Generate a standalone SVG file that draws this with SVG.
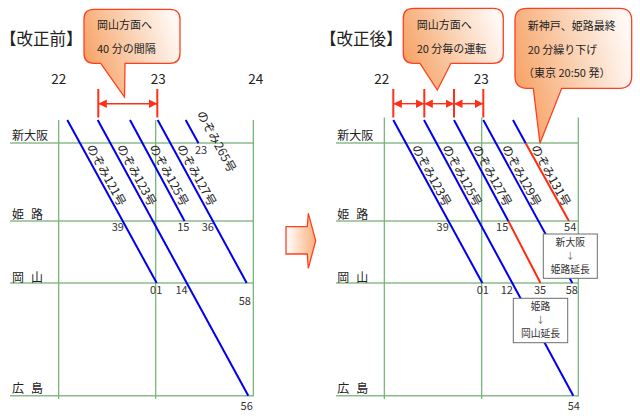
<svg xmlns="http://www.w3.org/2000/svg" width="640" height="416" viewBox="0 0 640 416">
<style>
text{font-family:"Noto Sans CJK JP","Noto Sans",sans-serif;fill:#222}
.title{font-size:16.5px}
.hr{font-size:13.5px;text-anchor:middle}
.st{font-size:12px}
.tm{font-size:11px;text-anchor:middle;fill:#333}
.lbl{font-size:12px}
.co{font-size:11px}
.bx{font-size:9.8px;text-anchor:middle;fill:#333}
.ar{font-size:9px;text-anchor:middle;fill:#666}
.gv{stroke:#6CB26C;stroke-width:1.2;fill:none}
.gh{stroke:#8BBB8B;stroke-width:1.6;fill:none}
.blue{stroke:#0000F0;stroke-width:2;fill:none}
.red{stroke:#FF2A10;stroke-width:2;fill:none}
.mk{stroke:#FF3018;stroke-width:2;fill:none}
.dim{stroke:#FF3018;stroke-width:1.4;fill:none;marker-start:url(#ah);marker-end:url(#ah)}
.call{fill:url(#cg);stroke:#FF4020;stroke-width:1.3}
.box{fill:#fff;stroke:#6E6E6E;stroke-width:1}
</style>
<defs>
<linearGradient id="cg" x1="0" y1="0.65" x2="1" y2="0.35">
<stop offset="0" stop-color="#F7A062"/>
<stop offset="0.55" stop-color="#FAD2B4"/>
<stop offset="1" stop-color="#FFF8F4"/>
</linearGradient>
<linearGradient id="ag" x1="0" y1="0" x2="1" y2="0">
<stop offset="0" stop-color="#FFFFFF"/>
<stop offset="1" stop-color="#FBB07A"/>
</linearGradient>
<marker id="ah" viewBox="0 0 10 10" refX="10" refY="5" markerWidth="8.5" markerHeight="8.6" markerUnits="userSpaceOnUse" orient="auto-start-reverse" preserveAspectRatio="none">
<path d="M0,0 L10,5 L0,10 z" fill="#FF3018"/>
</marker>
</defs>
<rect width="640" height="416" fill="#fff"/>

<g id="title-before"><text class="title" x="0" y="45">【改正前】</text></g>
<g id="title-after"><text class="title" x="320" y="45">【改正後】</text></g>

<g id="grid-before">
<line class="gh" x1="10" y1="143" x2="253" y2="143"/>
<line class="gh" x1="10" y1="221" x2="253" y2="221"/>
<line class="gh" x1="10" y1="283" x2="253" y2="283"/>
<line class="gh" x1="10" y1="395.7" x2="253" y2="395.7"/>
<line class="gv" x1="58.7" y1="120" x2="58.7" y2="399"/>
<line class="gv" x1="155.7" y1="120" x2="155.7" y2="399"/>
<line class="gv" x1="253.3" y1="120" x2="253.3" y2="396.5"/>
<text class="hr" x="58.7" y="84">22</text>
<text class="hr" x="158.3" y="84">23</text>
<text class="hr" x="255.8" y="84">24</text>
<text class="st" x="12" y="140">新大阪</text>
<text class="st" x="12" y="218.5" textLength="31" lengthAdjust="spacing">姫 路</text>
<text class="st" x="12" y="281.5" textLength="31" lengthAdjust="spacing">岡 山</text>
<text class="st" x="12" y="392.5" textLength="31" lengthAdjust="spacing">広 島</text>
</g>

<g id="grid-after">
<line class="gh" x1="336" y1="143" x2="578.3" y2="143"/>
<line class="gh" x1="336" y1="221" x2="578.3" y2="221"/>
<line class="gh" x1="336" y1="283" x2="578.3" y2="283"/>
<line class="gh" x1="336" y1="395.7" x2="578.3" y2="395.7"/>
<line class="gv" x1="384.3" y1="117.5" x2="384.3" y2="399"/>
<line class="gv" x1="481.7" y1="117.5" x2="481.7" y2="399"/>
<line class="gv" x1="578.3" y1="117.5" x2="578.3" y2="396.5"/>
<text class="hr" x="381.7" y="84">22</text>
<text class="hr" x="481.2" y="84">23</text>
<text class="st" x="337.3" y="140">新大阪</text>
<text class="st" x="337.3" y="218.5" textLength="31" lengthAdjust="spacing">姫 路</text>
<text class="st" x="337.3" y="281.5" textLength="31" lengthAdjust="spacing">岡 山</text>
<text class="st" x="337.3" y="392.5" textLength="31" lengthAdjust="spacing">広 島</text>
</g>

<g id="connectors">
<line class="blue" x1="67.3" y1="120" x2="156.7" y2="283"/>
<line class="blue" x1="97.7" y1="120" x2="248.3" y2="395.7"/>
<line class="blue" x1="130" y1="120" x2="184.5" y2="221"/>
<line class="blue" x1="157.7" y1="120" x2="246.7" y2="283"/>
<line class="blue" x1="185.7" y1="120" x2="198.5" y2="143.3"/>
<line class="blue" x1="393.3" y1="120" x2="482.3" y2="283"/>
<line class="blue" x1="424" y1="120" x2="573.3" y2="395.7"/>
<line class="blue" x1="454" y1="120" x2="508.3" y2="221"/>
<line class="red" x1="508.3" y1="221" x2="540.5" y2="283"/>
<line class="blue" x1="483.3" y1="120" x2="572.3" y2="283"/>
<line class="blue" x1="513" y1="120" x2="525.7" y2="143.3"/>
<line class="red" x1="525.7" y1="143.3" x2="568.9" y2="221"/>
<line class="mk" x1="98.3" y1="89" x2="98.3" y2="117.5"/>
<line class="mk" x1="157.3" y1="89" x2="157.3" y2="117.5"/>
<line class="dim" x1="98.3" y1="103.7" x2="157.3" y2="103.7"/>
<line class="mk" x1="393.3" y1="89" x2="393.3" y2="117.5"/>
<line class="mk" x1="424.3" y1="89" x2="424.3" y2="117.5"/>
<line class="mk" x1="454" y1="89" x2="454" y2="117.5"/>
<line class="mk" x1="483.3" y1="89" x2="483.3" y2="117.5"/>
<line class="dim" x1="393.3" y1="103.7" x2="424.3" y2="103.7"/>
<line class="dim" x1="424.3" y1="103.7" x2="454" y2="103.7"/>
<line class="dim" x1="454" y1="103.7" x2="483.3" y2="103.7"/>
</g>

<g id="train-labels">
<text class="lbl" transform="translate(86.2,147.3) rotate(61.27)">のぞみ121号</text>
<text class="lbl" transform="translate(116.6,147.3) rotate(61.27)">のぞみ123号</text>
<text class="lbl" transform="translate(148.9,147.3) rotate(61.27)">のぞみ125号</text>
<text class="lbl" transform="translate(176.6,147.3) rotate(61.27)">のぞみ127号</text>
<text class="lbl" transform="translate(196.4,113.7) rotate(61.27)">のぞみ265号</text>
<text class="lbl" transform="translate(411.4,147.7) rotate(61.27)">のぞみ123号</text>
<text class="lbl" transform="translate(442.1,147.7) rotate(61.27)">のぞみ125号</text>
<text class="lbl" transform="translate(472.1,147.7) rotate(61.27)">のぞみ127号</text>
<text class="lbl" transform="translate(501.4,147.7) rotate(61.27)">のぞみ129号</text>
<text class="lbl" transform="translate(530.8,147.7) rotate(61.27)">のぞみ131号</text>
</g>

<g id="times">
<text class="tm" x="201" y="154">23</text>
<text class="tm" x="117.8" y="230.7">39</text>
<text class="tm" x="183.3" y="230.7">15</text>
<text class="tm" x="207.8" y="230.7">36</text>
<text class="tm" x="156.2" y="293.7">01</text>
<text class="tm" x="181.5" y="293.7">14</text>
<text class="tm" x="244.8" y="305">58</text>
<text class="tm" x="246.7" y="410">56</text>
<text class="tm" x="442.7" y="230.7">39</text>
<text class="tm" x="502.2" y="230.7">15</text>
<text class="tm" x="570.2" y="230.7">54</text>
<text class="tm" x="482.8" y="293.7">01</text>
<text class="tm" x="506.8" y="293.7">12</text>
<text class="tm" x="540" y="293.7">35</text>
<text class="tm" x="571.8" y="293.7">58</text>
<text class="tm" x="573.8" y="410">54</text>
</g>

<g id="box-shinosaka">
<rect class="box" x="543.3" y="234" width="54" height="44.3"/>
<text class="bx" x="570.3" y="246.2">新大阪</text>
<text class="ar" x="570.3" y="258.8">↓</text>
<text class="bx" x="570.3" y="272.9">姫路延長</text>
</g>
<g id="box-himeji">
<rect class="box" x="513.3" y="298.3" width="54.4" height="44.4"/>
<text class="bx" x="540.5" y="310.2">姫路</text>
<text class="ar" x="540.5" y="322.8">↓</text>
<text class="bx" x="540.5" y="336.9">岡山延長</text>
</g>

<g id="callout-before">
<path class="call" d="M94,9.3 H170 Q180,9.3 180,19.3 V53.3 Q180,63.3 170,63.3 H125 L124.5,97 L100.7,63.3 H94 Q84,63.3 84,53.3 V19.3 Q84,9.3 94,9.3 Z"/>
<text class="co" x="97" y="29">岡山方面へ</text>
<text class="co" x="97" y="52.5">40 分の間隔</text>
</g>
<g id="callout-after-1">
<path class="call" d="M413.3,8.3 H493.3 Q503.3,8.3 503.3,18.3 V53.3 Q503.3,63.3 493.3,63.3 H451 L437.3,90 L420,63.3 H413.3 Q403.3,63.3 403.3,53.3 V18.3 Q403.3,8.3 413.3,8.3 Z"/>
<text class="co" x="416.7" y="29">岡山方面へ</text>
<text class="co" x="416.7" y="53">20 分毎の運転</text>
</g>
<g id="callout-after-2">
<path class="call" d="M527,8.3 H619.7 Q631.7,8.3 631.7,20.3 V76.3 Q631.7,88.3 619.7,88.3 H561.7 L540,143.3 L533.3,88.3 H527 Q515,88.3 515,76.3 V20.3 Q515,8.3 527,8.3 Z"/>
<text class="co" x="527.7" y="29.5">新神戸、姫路最終</text>
<text class="co" x="527.7" y="54">20 分繰り下げ</text>
<text class="co" x="523" y="77">（東京 20:50 発）</text>
</g>

<g id="arrow">
<path d="M286,226.7 H307.3 L308.3,213.3 L315.7,240.7 L308.3,268.3 L307.3,254 H286 Z" fill="url(#ag)" stroke="#FF4020" stroke-width="1.3"/>
</g>
</svg>
